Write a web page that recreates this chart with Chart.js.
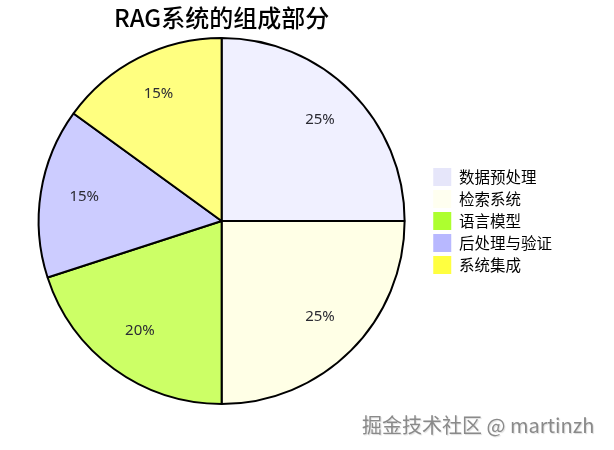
<!DOCTYPE html>
<html>
<head>
<meta charset="utf-8">
<script src="https://cdn.jsdelivr.net/npm/chart.js@4.4.1/dist/chart.umd.min.js"></script>
<style>
  html, body { margin: 0; padding: 0; background: #fff; }
  #wrap { position: relative; width: 614px; height: 450px; }
  #mark {
    position: absolute; left: 362px; top: 410px;
    font: 20px "Noto Sans CJK SC", sans-serif; color: #8a8a8a;
    text-shadow: 1px 1px 1px #ddd; white-space: nowrap;
  }
</style>
</head>
<body>
<div id="wrap">
  <canvas id="ragChart" width="614" height="450"></canvas>
  <div id="mark">掘金技术社区 @ martinzh</div>
</div>
<script>
const chartTitle = 'RAG系统的组成部分';
const parts = ['数据预处理', '检索系统', '语言模型', '后处理与验证', '系统集成'];
const shares = [25, 25, 20, 15, 15];
const sliceColors = ['#f0f0ff', '#ffffe6', '#ccff66', '#ccccff', '#ffff80'];
const legendColors = ['#e6e6fa', '#fffff0', '#adff2f', '#b8b8ff', '#ffff40'];

// percent labels inside each slice + title over the pie
const pieText = {
  id: 'pieText',
  afterDatasetsDraw(chart) {
    const ctx = chart.ctx;
    const meta = chart.getDatasetMeta(0);
    ctx.save();
    ctx.font = '15px "Noto Sans", sans-serif';
    ctx.fillStyle = '#2b2b33';
    ctx.textAlign = 'center';
    ctx.textBaseline = 'middle';
    meta.data.forEach((arc, i) => {
      const mid = (arc.startAngle + arc.endAngle) / 2;
      const r = arc.outerRadius * 0.76;
      ctx.fillText(shares[i] + '%', arc.x + Math.cos(mid) * r, arc.y + Math.sin(mid) * r - 3);
    });
    const a = meta.data[0];
    ctx.font = '500 24px "Noto Sans CJK SC", sans-serif';
    ctx.fillStyle = '#000';
    ctx.fillText(chartTitle, a.x, 18);
    ctx.restore();
  }
};

const ctx = document.getElementById('ragChart').getContext('2d');
new Chart(ctx, {
  type: 'pie',
  data: {
    labels: parts,
    datasets: [{
      data: shares,
      backgroundColor: sliceColors,
      borderColor: '#000',
      borderWidth: 2
    }]
  },
  options: {
    responsive: false,
    animation: false,
    layout: { padding: { left: 14, top: 37, bottom: 45, right: 52 } },
    plugins: {
      title: { display: false },
      tooltip: { enabled: false },
      legend: {
        position: 'right',
        labels: {
          boxWidth: 18,
          boxHeight: 18,
          padding: 4,
          color: '#000',
          font: { size: 15.5, family: '"Noto Sans CJK SC", sans-serif' },
          generateLabels: chart => parts.map((p, i) => ({
            text: p,
            fillStyle: legendColors[i],
            strokeStyle: legendColors[i],
            lineWidth: 0,
            index: i
          }))
        }
      }
    }
  },
  plugins: [pieText]
});
</script>
</body>
</html>
